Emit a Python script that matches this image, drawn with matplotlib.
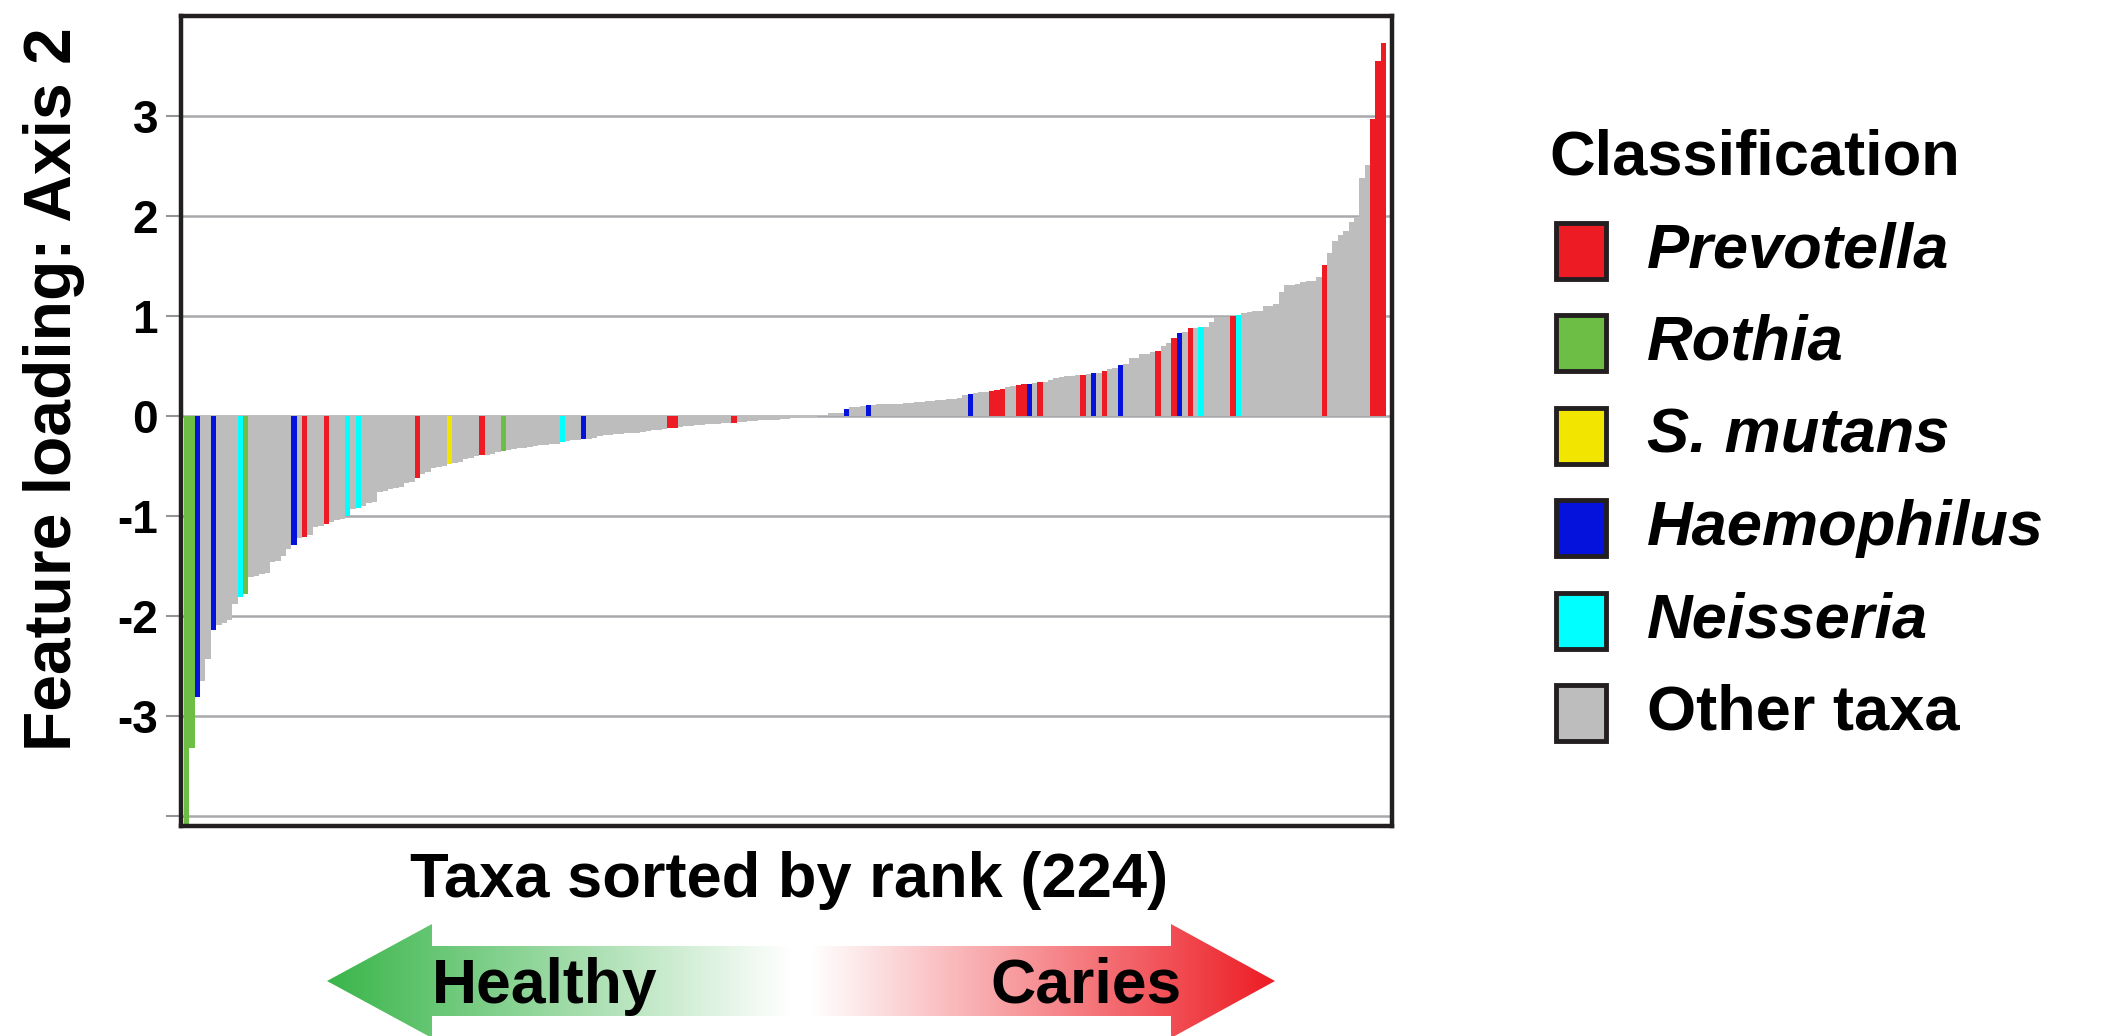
import numpy as np
import matplotlib
matplotlib.use('Agg')
import matplotlib.pyplot as plt
from matplotlib.patches import Polygon, Rectangle

plt.rcParams['font.family'] = ['Liberation Sans', 'DejaVu Sans']

W, H = 2105, 1036

# feature loadings (axis 2), 224 taxa sorted by rank
loadings = [
    -4.08, -3.32, -2.81, -2.65, -2.43, -2.14, -2.09, -2.07, -2.04, -1.88,
    -1.81, -1.78, -1.61, -1.60, -1.58, -1.57, -1.46, -1.45, -1.40, -1.33,
    -1.29, -1.22, -1.21, -1.19, -1.11, -1.10, -1.08, -1.06, -1.04, -1.03,
    -1.00, -0.93, -0.92, -0.90, -0.87, -0.86, -0.76, -0.75, -0.73, -0.72,
    -0.71, -0.67, -0.66, -0.62, -0.58, -0.555, -0.52, -0.51, -0.50, -0.475,
    -0.47, -0.46, -0.43, -0.42, -0.40, -0.39, -0.385, -0.38, -0.355, -0.35,
    -0.335, -0.33, -0.32, -0.315, -0.31, -0.30, -0.29, -0.285, -0.28, -0.275,
    -0.26, -0.245, -0.24, -0.235, -0.226, -0.225, -0.22, -0.195, -0.19, -0.185,
    -0.178, -0.175, -0.172, -0.17, -0.165, -0.155, -0.15, -0.143, -0.135, -0.13,
    -0.12, -0.12, -0.105, -0.10, -0.095, -0.09, -0.085, -0.08, -0.077, -0.075,
    -0.07, -0.068, -0.067, -0.063, -0.06, -0.054, -0.05, -0.044, -0.042, -0.037,
    -0.035, -0.03, -0.028, -0.023, -0.017, -0.01, -0.009, -0.006, -0.004, -0.002,
    0.028, 0.03, 0.035, 0.073, 0.09, 0.095, 0.098, 0.107, 0.115, 0.117,
    0.118, 0.12, 0.122, 0.125, 0.128, 0.135, 0.138, 0.142, 0.148, 0.15,
    0.158, 0.16, 0.168, 0.17, 0.18, 0.21, 0.225, 0.235, 0.237, 0.245,
    0.25, 0.26, 0.27, 0.29, 0.30, 0.306, 0.316, 0.316, 0.327, 0.337,
    0.338, 0.36, 0.377, 0.394, 0.40, 0.405, 0.407, 0.41, 0.42, 0.428,
    0.43, 0.45, 0.47, 0.485, 0.51, 0.52, 0.58, 0.58, 0.62, 0.62,
    0.64, 0.65, 0.70, 0.73, 0.78, 0.83, 0.84, 0.88, 0.88, 0.89,
    0.89, 0.94, 0.99, 0.99, 0.99, 1.00, 1.01, 1.03, 1.04, 1.05,
    1.05, 1.10, 1.10, 1.12, 1.24, 1.31, 1.31, 1.32, 1.34, 1.35,
    1.35, 1.39, 1.51, 1.63, 1.75, 1.81, 1.85, 1.94, 1.98, 2.38,
    2.51, 2.97, 3.55, 3.73,
]

# rank positions of the highlighted genera
prevotella = [22, 26, 43, 55, 90, 91, 102, 150, 151, 152, 155, 156, 159,
              167, 171, 181, 184, 187, 195, 212, 221, 222, 223]
rothia = [0, 1, 11, 59]
s_mutans = [49]
haemophilus = [2, 5, 20, 74, 123, 127, 146, 157, 169, 174, 185]
neisseria = [10, 30, 32, 70, 189, 196]

legend_labels = ['Prevotella', 'Rothia', 'S. mutans', 'Haemophilus', 'Neisseria', 'Other taxa']
legend_colors = ['#ED1C24', '#6DBE45', '#F2E500', '#0512DC', '#00FFFF', '#BDBDBD']

bar_colors = [legend_colors[-1]] * len(loadings)
for group, col in zip([prevotella, rothia, s_mutans, haemophilus, neisseria], legend_colors):
    for i in group:
        bar_colors[i] = col


def px(x, y):
    return x / W, 1 - y / H


fig = plt.figure(figsize=(W / 100, H / 100), dpi=100, facecolor='white')

left, right, top, bottom = 181, 1392, 16, 826
ax = fig.add_axes([left / W, 1 - bottom / H, (right - left) / W, (bottom - top) / H])
x = np.arange(len(loadings))
ax.bar(x, loadings, width=1.0, align='edge', color=bar_colors, linewidth=0, zorder=2)
ax.set_xlim(-0.56, len(loadings) + 1.1)
ax.set_ylim(-4.1, 4.0)
ax.set_xticks([])
yt = [-4, -3, -2, -1, 0, 1, 2, 3]
ax.set_yticks(yt)
ax.set_yticklabels(['' if v == -4 else str(v) for v in yt], fontsize=33, fontweight='bold')
ax.tick_params(axis='y', direction='out', length=10.5, width=1.5, color='#939598', pad=6)
ax.yaxis.grid(True, color='#A7A9AC', linewidth=1.8, zorder=0)
ax.set_axisbelow(True)
for sp in ax.spines.values():
    sp.set_color('#231F20')
    sp.set_linewidth(3.2)

fig.text(*px(54, 389), 'Feature loading: Axis 2', rotation=90, ha='center', va='center',
         fontsize=47.5, fontweight='bold')
fig.text(*px(789, 880), 'Taxa sorted by rank (224)', ha='center', va='center',
         fontsize=45.5, fontweight='bold')

# legend
fig.text(*px(1549, 158), 'Classification', ha='left', va='center', fontsize=45.5, fontweight='bold')
sq_w, sq_h = 50, 56
for i, (lab, col) in enumerate(zip(legend_labels, legend_colors)):
    cy = 251 + 92.4 * i
    fig.patches.append(Rectangle(px(1556, cy + sq_h / 2), sq_w / W, sq_h / H, transform=fig.transFigure,
                                 facecolor=col, edgecolor='#231F20', linewidth=3.5))
    style = 'normal' if lab == 'Other taxa' else 'italic'
    fig.text(*px(1647, cy), lab, ha='left', va='center', fontsize=45.5, fontweight='bold', style=style)

# Healthy <-> Caries arrow
aax = fig.add_axes([0, 0, 1, 1], zorder=-1)
aax.set_xlim(0, W)
aax.set_ylim(H, 0)
aax.axis('off')
tip_l, base_l, base_r, tip_r = 327, 432, 1171, 1275
cy, hh, sh = 981, 57, 35
verts = [(tip_l, cy), (base_l, cy - hh), (base_l, cy - sh), (base_r, cy - sh), (base_r, cy - hh),
         (tip_r, cy), (base_r, cy + hh), (base_r, cy + sh), (base_l, cy + sh), (base_l, cy + hh)]
poly = Polygon(verts, closed=True, facecolor='none', edgecolor='none')
aax.add_patch(poly)
xs = np.linspace(tip_l, tip_r, 600)
stops_x = [tip_l, 790, 812, tip_r]
green = np.array([57, 181, 74]) / 255
red = np.array([237, 28, 36]) / 255
white = np.array([1.0, 1.0, 1.0])
grad = np.zeros((1, len(xs), 3))
for c in range(3):
    grad[0, :, c] = np.interp(xs, stops_x, [green[c], white[c], white[c], red[c]])
im = aax.imshow(grad, extent=[tip_l, tip_r, cy + hh, cy - hh], aspect='auto', interpolation='bilinear')
im.set_clip_path(poly)
aax.text(432, 986, 'Healthy', ha='left', va='center', fontsize=45, fontweight='bold')
aax.text(1182, 986, 'Caries', ha='right', va='center', fontsize=45, fontweight='bold')

fig.savefig('out.png', dpi=100, facecolor='white')
